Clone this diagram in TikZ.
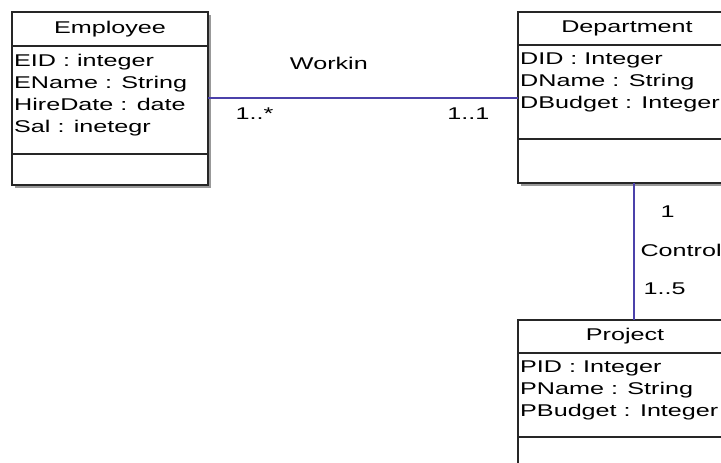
\documentclass[tikz,border=0pt]{standalone}
\usepackage{fontspec}
\setmainfont{Liberation Sans}[FakeStretch=1.48]
\usetikzlibrary{positioning,backgrounds,calc}
\definecolor{assocblue}{RGB}{75,65,170}

\tikzset{
  classpart/.style={draw=black!85,line width=1.2pt,fill=white,outer sep=0pt,inner sep=0pt,
    anchor=north,font=\fontsize{17}{22}\selectfont},
  attrtext/.style={anchor=north west,align=left,inner xsep=2pt,inner ysep=0pt,
    font=\fontsize{17}{22}\selectfont},
  assoc/.style={draw=assocblue,line width=1.1pt},
  mult/.style={inner sep=0pt,font=\fontsize{17}{22}\selectfont},
  shadowbox/.style={fill=black!40}
}

\begin{document}
\begin{tikzpicture}
\useasboundingbox (0,0) rectangle (721pt,-463pt);
\clip (0,0) rectangle (721pt,-463pt);

% Employee
\node[classpart,minimum width=196pt,minimum height=34pt,anchor=north west] (emptitle) at (12pt,-12pt) {Employee};
\node[classpart,minimum width=196pt,minimum height=108pt,below=0pt of emptitle] (empattr) {};
\node[classpart,minimum width=196pt,minimum height=31pt,below=0pt of empattr] (empops) {};
\node[attrtext] (empattrtext) at ([yshift=-8pt]empattr.north west) {EID : integer\\EName : String\\HireDate : date\\Sal : inetegr};

% Department
\node[classpart,minimum width=218pt,minimum height=33pt,anchor=north west] (depttitle) at (518pt,-12pt) {Department};
\node[classpart,minimum width=218pt,minimum height=94pt,below=0pt of depttitle] (deptattr) {};
\node[classpart,minimum width=218pt,minimum height=44pt,below=0pt of deptattr] (deptops) {};
\node[attrtext] (deptattrtext) at ([yshift=-8pt]deptattr.north west) {DID : Integer\\DName : String\\DBudget : Integer};

% Project
\node[classpart,minimum width=214pt,minimum height=33pt,anchor=north west] (projtitle) at (518pt,-320pt) {Project};
\node[classpart,minimum width=214pt,minimum height=84pt,below=0pt of projtitle] (projattr) {};
\node[classpart,minimum width=214pt,minimum height=40pt,below=0pt of projattr] (projops) {};
\node[attrtext] (projattrtext) at ([yshift=-8pt]projattr.north west) {PID : Integer\\PName : String\\PBudget : Integer};

\begin{scope}[on background layer]
\fill[shadowbox] ([shift={(2.5pt,-2.5pt)}]emptitle.north west) rectangle ([shift={(2.5pt,-2.5pt)}]empops.south east);
\fill[shadowbox] ([shift={(2.5pt,-2.5pt)}]depttitle.north west) rectangle ([shift={(2.5pt,-2.5pt)}]deptops.south east);
\fill[shadowbox] ([shift={(2.5pt,-2.5pt)}]projtitle.north west) rectangle ([shift={(2.5pt,-2.5pt)}]projops.south east);
\end{scope}

% associations
\path[assoc] ([yshift=2pt]empattr.east) -- ([yshift=2pt]empattr.east -| deptattr.west)
  node[mult,pos=0.39,above=28pt]{Workin}
  node[mult,pos=0.15,below=9pt]{1..*}
  node[mult,pos=0.84,below=9pt]{1..1};
\path[assoc] ([xshift=7pt]deptops.south) -- ([xshift=7pt]deptops.south |- projtitle.north)
  node[mult,pos=0.21,right=26pt]{1}
  node[mult,pos=0.49,right=6pt]{Control}
  node[mult,pos=0.77,right=9pt]{1..5};
\end{tikzpicture}
\end{document}
